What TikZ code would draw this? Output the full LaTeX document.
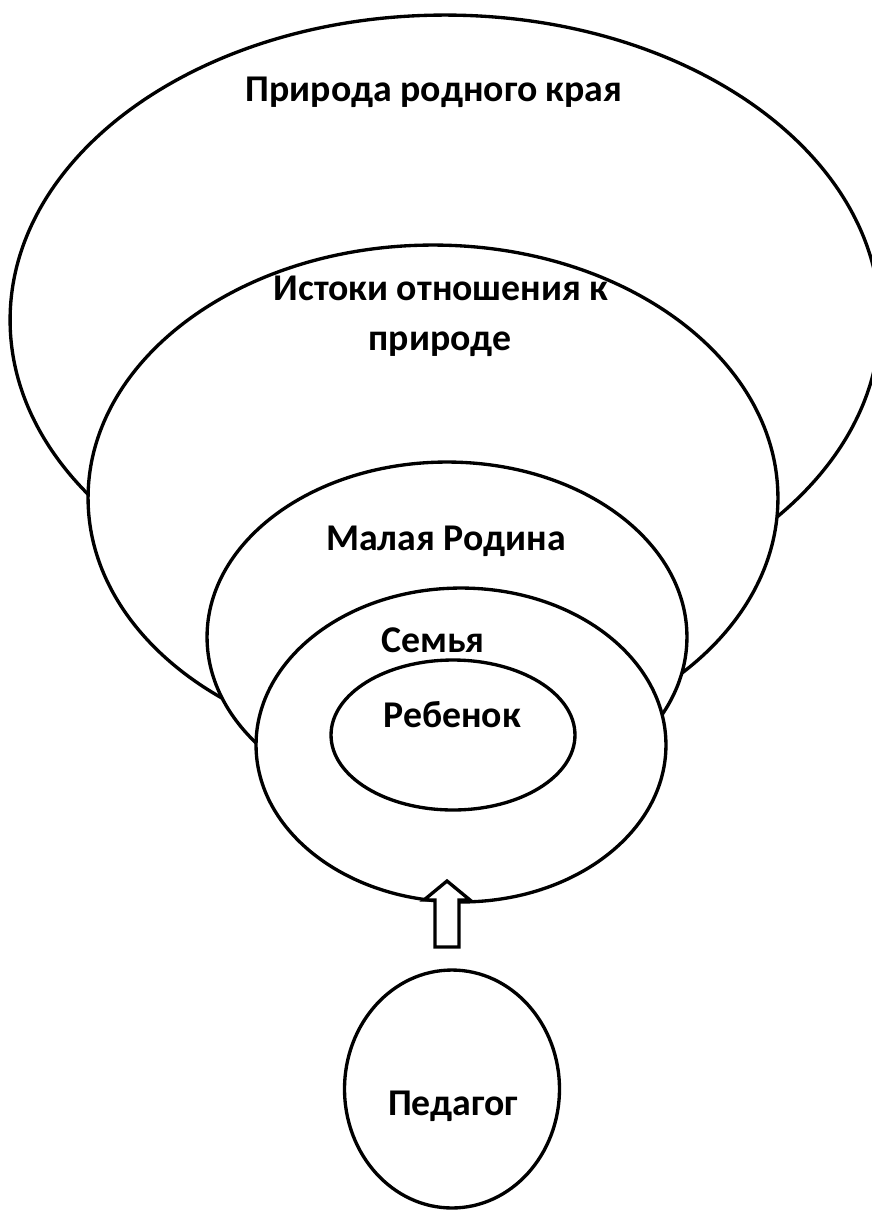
\documentclass[tikz,border=0pt]{standalone}
\usepackage{fontspec}
\setmainfont{Carlito}
\usetikzlibrary{shapes.geometric}

\tikzset{
  ring/.style={draw,ellipse,fill=white,line width=1.9pt,inner sep=0pt},
  ringtext/.style={anchor=base,font=\fontsize{21.5}{28}\selectfont\bfseries},
}

\begin{document}
\begin{tikzpicture}[x=0.02cm,y=-0.02cm]
  \useasboundingbox (0,0) rectangle (872,1211);
  % rings, outside in
  \node[ring,minimum width=17.4cm,minimum height=12.2cm] (nature) at (445,320) {};
  \node[ringtext] (natureLbl) at (434,101) {Природа родного края};
  \node[ring,minimum width=13.8cm,minimum height=10.12cm] (origins) at (433,498) {};
  \node[ringtext] (originsLbl) at (441,300) {Истоки отношения к};
  \node[ringtext] (originsLblB) at (440,350) {природе};
  \node[ring,minimum width=9.6cm,minimum height=7cm] (homeland) at (447,637) {};
  \node[ringtext] (homelandLbl) at (446,550) {Малая Родина};
  \node[ring,minimum width=8.2cm,minimum height=6.28cm] (family) at (461,745) {};
  \node[ringtext] (familyLbl) at (433,652) {Семья};
  \node[ring,minimum width=4.88cm,minimum height=3cm] (child) at (453,735) {};
  \node[ringtext] (childLbl) at (452,727) {Ребенок};
  % teacher
  \node[ring,minimum width=4.3cm,minimum height=4.76cm] (teacher) at (452,1089) {};
  \node[ringtext] (teacherLbl) at (453,1115) {Педагог};
  % hollow arrow up into the family ring
  \coordinate (tip) at (447,881);
  \draw[line width=1.9pt,fill=white] (tip) -- ++(23,19) -- ++(-11,0) -- ++(0,47) -- ++(-24,0) -- ++(0,-47) -- ++(-11,0) -- cycle;
\end{tikzpicture}
\end{document}
